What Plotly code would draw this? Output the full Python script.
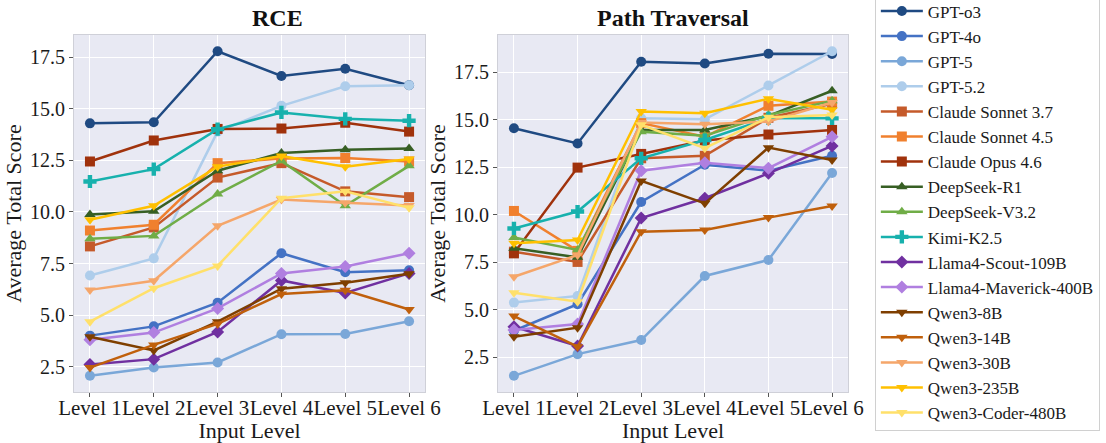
import plotly.graph_objects as go

levels = ["Level 1", "Level 2", "Level 3", "Level 4", "Level 5", "Level 6"]
models = ["GPT-o3", "GPT-4o", "GPT-5", "GPT-5.2", "Claude Sonnet 3.7", "Claude Sonnet 4.5",
          "Claude Opus 4.6", "DeepSeek-R1", "DeepSeek-V3.2", "Kimi-K2.5", "Llama4-Scout-109B",
          "Llama4-Maverick-400B", "Qwen3-8B", "Qwen3-14B", "Qwen3-30B", "Qwen3-235B", "Qwen3-Coder-480B"]

# RCE scores per model
rce_gpt_o3 = [14.3, 14.35, 17.8, 16.6, 16.95, 16.15]
rce_gpt_4o = [4.0, 4.45, 5.6, 8.0, 7.08, 7.17]
rce_gpt_5 = [2.05, 2.45, 2.7, 4.07, 4.08, 4.7]
rce_gpt_52 = [6.92, 7.75, 13.9, 15.15, 16.1, 16.15]
rce_sonnet37 = [8.33, 9.25, 11.67, 12.37, 11.0, 10.72]
rce_sonnet45 = [9.1, 9.38, 12.37, 12.6, 12.62, 12.45]
rce_opus46 = [12.45, 13.47, 14.03, 14.05, 14.33, 13.9]
rce_ds_r1 = [9.88, 10.03, 12.0, 12.86, 13.02, 13.08]
rce_ds_v32 = [8.7, 8.84, 10.87, 12.48, 10.3, 12.24]
rce_kimi = [11.48, 12.08, 14.02, 14.83, 14.52, 14.43]
rce_scout = [2.6, 2.86, 4.18, 6.68, 6.07, 7.02]
rce_maverick = [3.8, 4.15, 5.32, 7.02, 7.35, 8.0]
rce_q8 = [3.95, 3.28, 4.68, 6.28, 6.57, 7.0]
rce_q14 = [2.45, 3.55, 4.57, 6.02, 6.2, 5.27]
rce_q30 = [6.22, 6.66, 9.33, 10.6, 10.45, 10.32]
rce_q235 = [9.62, 10.3, 12.2, 12.72, 12.2, 12.57]
rce_qcoder = [4.68, 6.3, 7.38, 10.67, 11.0, 10.2]

# Path Traversal scores per model
pt_gpt_o3 = [14.55, 13.75, 18.05, 17.95, 18.47, 18.45]
pt_gpt_4o = [3.9, 5.3, 10.67, 12.63, 12.32, 13.1]
pt_gpt_5 = [1.53, 2.67, 3.41, 6.78, 7.62, 12.2]
pt_gpt_52 = [5.38, 5.73, 15.07, 15.02, 16.8, 18.6]
pt_sonnet37 = [8.06, 7.52, 12.97, 13.1, 15.1, 15.83]
pt_sonnet45 = [10.2, 8.1, 14.82, 14.1, 15.73, 15.95]
pt_opus46 = [7.97, 12.48, 13.2, 13.9, 14.22, 14.46]
pt_ds_r1 = [8.24, 7.76, 14.46, 14.46, 15.2, 16.52]
pt_ds_v32 = [8.8, 8.15, 14.37, 14.15, 15.25, 15.99]
pt_kimi = [9.28, 10.17, 12.97, 13.93, 15.07, 15.07]
pt_scout = [4.11, 3.1, 9.83, 10.87, 12.18, 13.62]
pt_maverick = [3.94, 4.25, 12.32, 12.74, 12.45, 14.1]
pt_q8 = [3.58, 4.06, 11.78, 10.6, 13.53, 12.88]
pt_q14 = [4.67, 3.06, 9.11, 9.2, 9.85, 10.46]
pt_q30 = [6.74, 7.88, 14.85, 14.76, 14.9, 15.9]
pt_q235 = [8.5, 8.67, 15.43, 15.34, 16.1, 15.52]
pt_qcoder = [5.9, 5.43, 14.73, 13.5, 15.13, 15.25]

rce = [rce_gpt_o3, rce_gpt_4o, rce_gpt_5, rce_gpt_52, rce_sonnet37, rce_sonnet45, rce_opus46,
       rce_ds_r1, rce_ds_v32, rce_kimi, rce_scout, rce_maverick, rce_q8, rce_q14, rce_q30,
       rce_q235, rce_qcoder]
pt = [pt_gpt_o3, pt_gpt_4o, pt_gpt_5, pt_gpt_52, pt_sonnet37, pt_sonnet45, pt_opus46,
      pt_ds_r1, pt_ds_v32, pt_kimi, pt_scout, pt_maverick, pt_q8, pt_q14, pt_q30,
      pt_q235, pt_qcoder]

colors = ["#1f4a82", "#4472c4", "#7aa7d8", "#aecdeb", "#c55a2a", "#f0802e", "#a0320c",
          "#375f24", "#70ad47", "#17b1ad", "#7030a0", "#b07fe0", "#7f3f00", "#c0600c",
          "#f5a66a", "#ffc000", "#ffe06a"]
symbols = ["circle"] * 4 + ["square"] * 3 + ["triangle-up"] * 2 + ["cross"] + ["diamond"] * 2 + ["triangle-down"] * 5

FONT = "Liberation Serif"
fig = go.Figure()

for i, name in enumerate(models):
    for panel, data in ((1, rce[i]), (2, pt[i])):
        fig.add_trace(go.Scatter(
            x=levels, y=data, name=name, mode="lines+markers",
            line=dict(color=colors[i], width=2.5),
            marker=dict(symbol=symbols[i], size=10 if symbols[i] != "cross" else 11, color=colors[i]),
            legendgroup=name, showlegend=(panel == 1),
            xaxis="x" if panel == 1 else "x2", yaxis="y" if panel == 1 else "y2",
        ))


def yrange(series):
    vals = [v for s in series for v in s]
    lo, hi = min(vals), max(vals)
    pad = (hi - lo) * 0.05
    return [lo - pad, hi + pad]


axis_common = dict(
    showgrid=True, gridcolor="white", gridwidth=1,
    showline=True, linecolor="#cfd0d8", linewidth=1, mirror=True,
    ticks="outside", ticklen=4, tickcolor="#555555", tickwidth=1,
    zeroline=False,
)
xtickfont = dict(family=FONT, size=21, color="#1a1a1a")
ytickfont = dict(family=FONT, size=20, color="#1a1a1a")
tickvals = [2.5, 5.0, 7.5, 10.0, 12.5, 15.0, 17.5]
title_font = dict(family=FONT, size=22, color="#1a1a1a")

fig.update_layout(
    width=1106, height=443,
    margin=dict(l=0, r=0, t=0, b=0, autoexpand=False),
    paper_bgcolor="white", plot_bgcolor="#e8e9f3",
    font=dict(family=FONT, color="#1a1a1a"),
    xaxis=dict(domain=[0.0669, 0.3843], range=[-0.25, 5.25], type="category",
               tickfont=xtickfont, ticklabelstandoff=-7, tickangle=0,
               title=dict(text="Input Level", font=title_font, standoff=0),
               anchor="y", **axis_common),
    yaxis=dict(domain=[0.115, 0.921], range=yrange(rce), tickvals=tickvals, tickformat=".1f",
               tickfont=ytickfont,
               title=dict(text="Average Total Score", font=title_font, standoff=2),
               anchor="x", **axis_common),
    xaxis2=dict(domain=[0.4503, 0.7667], range=[-0.25, 5.25], type="category",
                tickfont=xtickfont, ticklabelstandoff=-7, tickangle=0,
                title=dict(text="Input Level", font=title_font, standoff=0),
                anchor="y2", **axis_common),
    yaxis2=dict(domain=[0.115, 0.921], range=yrange(pt), tickvals=tickvals, tickformat=".1f",
                tickfont=ytickfont,
                title=dict(text="Average Total Score", font=title_font, standoff=2),
                anchor="x2", **axis_common),
    legend=dict(x=0.791, xanchor="left", y=1.017, yanchor="top",
                font=dict(family=FONT, size=17, color="#1a1a1a"),
                bordercolor="#d0d0d0", borderwidth=1, bgcolor="white",
                itemwidth=42, tracegroupgap=0, maxheight=2000),
    annotations=[
        dict(text="<b>RCE</b>", x=(0.0669 + 0.3843) / 2, y=1 - 18 / 443, xref="paper", yref="paper",
             showarrow=False, font=dict(family=FONT, size=24, color="#111111"), yanchor="middle"),
        dict(text="<b>Path Traversal</b>", x=(0.4503 + 0.7667) / 2, y=1 - 18 / 443, xref="paper", yref="paper",
             showarrow=False, font=dict(family=FONT, size=24, color="#111111"), yanchor="middle"),
    ],
)

fig.write_html("out.html", config={"displayModeBar": False},
               post_script="document.body.style.margin='0px';")
